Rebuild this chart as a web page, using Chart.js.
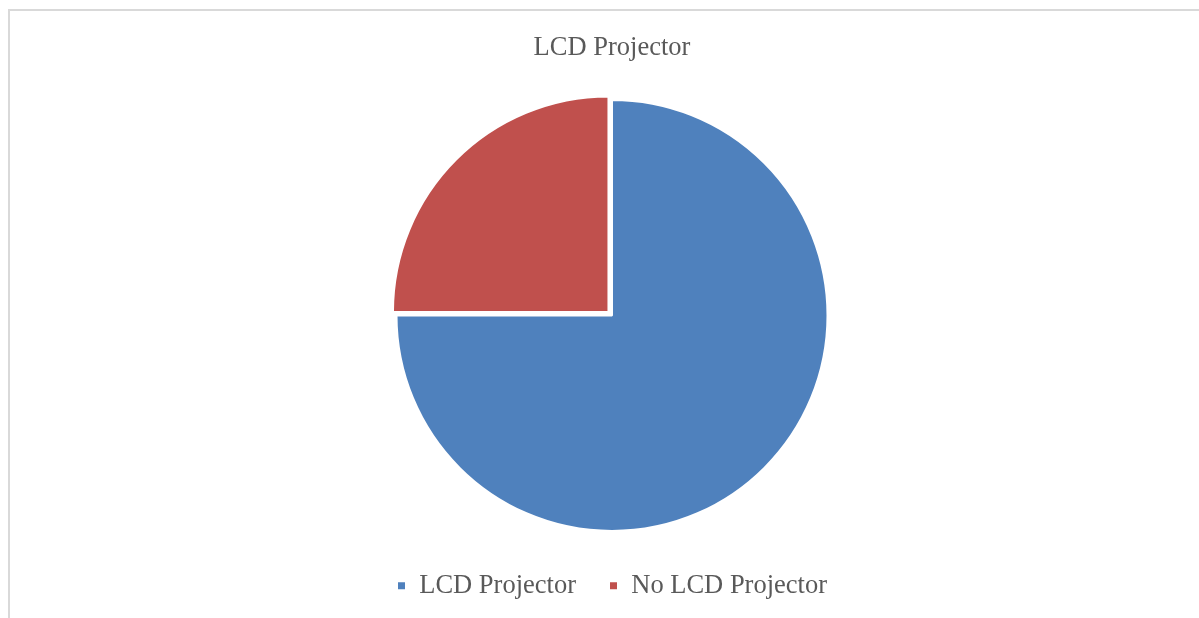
<!DOCTYPE html>
<html>
<head>
<meta charset="utf-8">
<title>LCD Projector</title>
<script src="https://cdn.jsdelivr.net/npm/chart.js@4/dist/chart.umd.min.js"></script>
<style>
  html, body { margin: 0; padding: 0; background: #fff; overflow: hidden; }
  #frame {
    position: absolute;
    left: 8px;
    top: 9px;
    width: 1204px;
    height: 620px;
    border: 2px solid #d9d9d9;
    background: #fff;
  }
  #chartBox { position: relative; width: 1204px; height: 598px; }
</style>
</head>
<body>
<div id="frame">
  <div id="chartBox"><canvas id="projectorChart"></canvas></div>
</div>
<script>
// Ketersediaan LCD projector
const labels = ["LCD Projector", "No LCD Projector"];
const values = [75, 25];
const colors = ["#4F81BD", "#C0504D"];
const offsets = [0, 20];

const textColor = "#595959";
const serif = "'Liberation Serif', 'Times New Roman', serif";

function renderPie() {
  const ctx = document.getElementById("projectorChart").getContext("2d");

  new Chart(ctx, {
    type: "pie",
    data: {
      labels: labels,
      datasets: [
        {
          data: values,
          backgroundColor: colors,
          borderColor: "#ffffff",
          borderWidth: 2,
          offset: offsets,
        },
      ],
    },
    options: {
      responsive: true,
      maintainAspectRatio: false,
      animation: false,
      radius: 215.5,
      layout: { padding: 0 },
      plugins: {
        title: {
          display: true,
          text: "LCD Projector",
          color: textColor,
          font: { family: serif, size: 26.5, weight: "normal", lineHeight: 1.2 },
          padding: { top: 21, bottom: 27.7 },
        },
        legend: {
          position: "bottom",
          labels: {
            color: textColor,
            font: { family: serif, size: 26.5 },
            boxWidth: 9,
            boxHeight: 9,
            padding: 33,
          },
        },
        tooltip: { enabled: false },
      },
    },
  });
}

document.addEventListener("DOMContentLoaded", () => {
  renderPie();
});
</script>
</body>
</html>
